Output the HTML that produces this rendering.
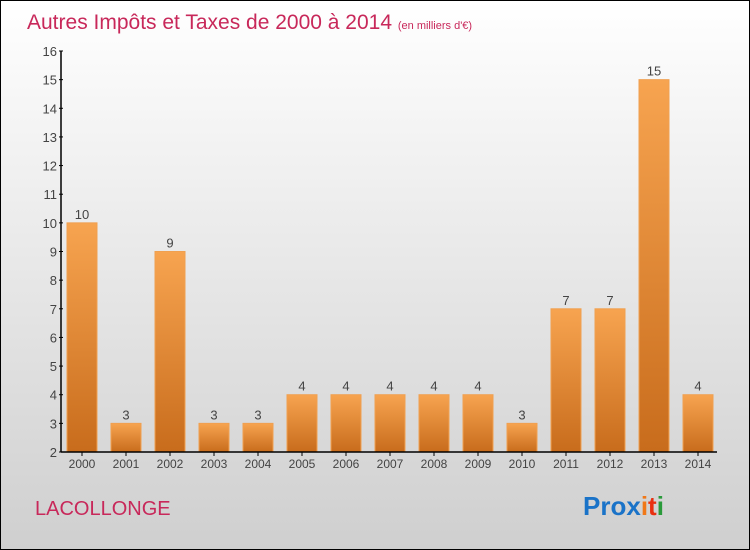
<!DOCTYPE html>
<html><head><meta charset="utf-8"><style>
body{margin:0}
#wrap{position:relative;width:748px;height:548px;border:1px solid #000;background:linear-gradient(#fff,#cfcfcf);font-family:"Liberation Sans",sans-serif;overflow:hidden}
</style></head><body>
<div id="wrap">
<svg width="748" height="548">
<defs><linearGradient id="bg" x1="0" y1="0" x2="0" y2="1"><stop offset="0" stop-color="#f7a450"/><stop offset="1" stop-color="#c86c1c"/></linearGradient></defs>
<text x="26" y="28" font-size="21" fill="#c8285a">Autres Impôts et Taxes de 2000 à 2014 <tspan font-size="11">(en milliers d'€)</tspan></text>
<g id="plot"></g>
<text x="34" y="514" font-size="20" fill="#c8285a">LACOLLONGE</text>
<text x="582" y="514" font-size="26" font-weight="bold"><tspan fill="#1a73c8">Pro</tspan><tspan fill="#1a73c8">x</tspan><tspan fill="#f07818">i</tspan><tspan fill="#e83010">t</tspan><tspan fill="#2a9a3a">i</tspan></text>
</svg></div>
<script>
const years=["2000","2001","2002","2003","2004","2005","2006","2007","2008","2009","2010","2011","2012","2013","2014"];
const values=[10,3,9,3,3,4,4,4,4,4,3,7,7,15,4];
const yTicks=[2,3,4,5,6,7,8,9,10,11,12,13,14,15,16];
const NS="http://www.w3.org/2000/svg";
const g=document.getElementById("plot");
const y0=451,y1=50,vmin=2,vmax=16;
const ys=v=>y0-(v-vmin)*(y0-y1)/(vmax-vmin);
const xs=i=>81+i*44;
function mk(t,a,txt){const e=document.createElementNS(NS,t);for(const k in a)e.setAttribute(k,a[k]);if(txt!==undefined)e.textContent=txt;g.appendChild(e);return e;}
values.forEach((v,i)=>{
const r=mk("rect",{x:xs(i)-15,y:ys(v),width:30,height:y0-ys(v),fill:"url(#bg)",stroke:"#f0a050","stroke-width":1});


const t=mk("text",{x:xs(i),y:ys(v)-4,"font-size":13,fill:"#444","text-anchor":"middle"},v);


const l=mk("text",{x:xs(i),y:y0+16,"font-size":12,fill:"#444","text-anchor":"middle"},years[i]);


mk("line",{x1:xs(i),x2:xs(i),y1:y0,y2:y0+4,stroke:"#000"});
});
yTicks.forEach(v=>{
const t=mk("text",{x:56,y:ys(v)+5,"font-size":13,fill:"#444","text-anchor":"end"},v);


mk("line",{x1:58,x2:62,y1:ys(v),y2:ys(v),stroke:"#000"});
});
const ya=mk("line",{x1:60,x2:60,y1:y1,y2:y0,stroke:"#000","stroke-width":1.5});


const xa=mk("line",{x1:60,x2:716,y1:y0,y2:y0,stroke:"#000","stroke-width":1.5});


</script>
</body></html>
